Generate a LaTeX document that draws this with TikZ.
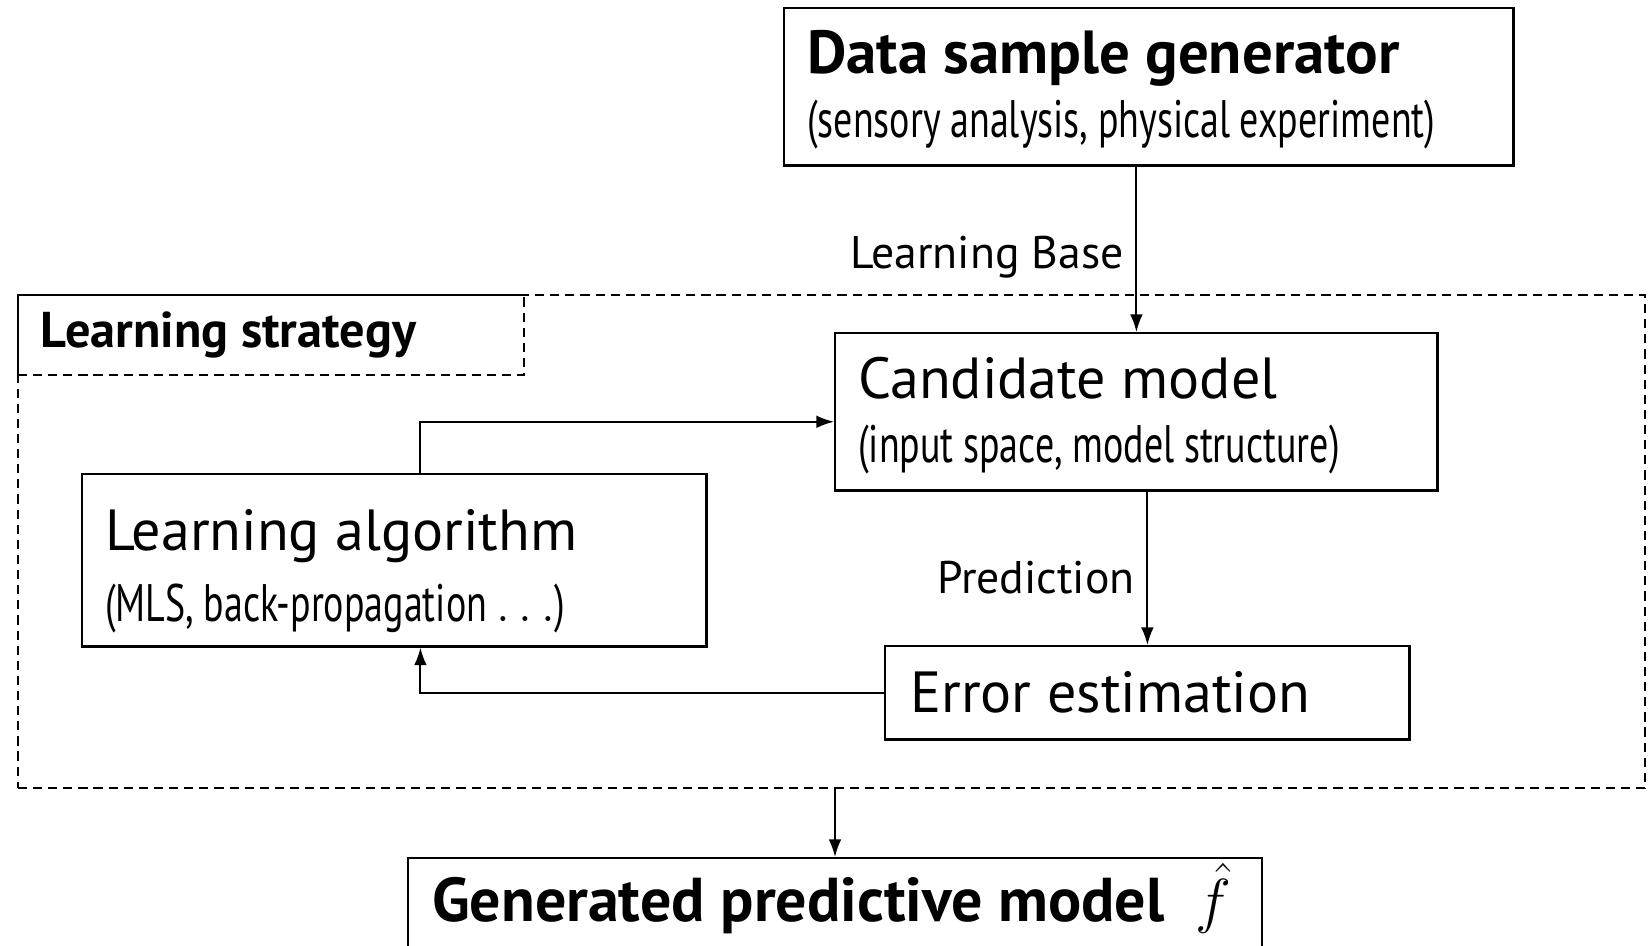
\documentclass[tikz,border=0pt]{standalone}
\usepackage{fontspec}
\setmainfont{PT Sans}
\newfontfamily\narrowfont[FakeStretch=0.72, WordSpace=0.95]{PT Sans}
\usetikzlibrary{arrows.meta}

\tikzset{
  box/.style={draw, line width=0.7pt, anchor=north west, align=left, inner xsep=0.23cm, inner ysep=0pt,
              font=\fontsize{15}{18.2}\selectfont},
  dashbox/.style={draw, dash pattern=on 2.6pt off 1.7pt, line width=0.5pt, anchor=north west, inner sep=0pt},
  link/.style={-{Latex[length=5pt, width=3.6pt]}, line width=0.55pt},
}
\newcommand{\bigtext}{\fontsize{16.5}{18.2}\selectfont\spaceskip=0pt\relax}
\newcommand{\boldtext}{\bfseries\fontsize{17.6}{18.2}\selectfont\spaceskip=0pt\relax}
\newcommand{\subtext}{\narrowfont\fontsize{15}{18.2}\selectfont\spaceskip=0pt\relax}
\newcommand{\labeltext}{\fontsize{13}{16}\selectfont}

\begin{document}
\begin{tikzpicture}[x=0.01cm, y=-0.01cm]
    \useasboundingbox (0,0) rectangle (1649,946);
    % outer frame
    \node[dashbox, minimum width=16.26cm, minimum height=4.93cm] (frame) at (17,294) {};
    \node[dashbox, minimum width=5.06cm, minimum height=0.80cm, align=left, text width=4.60cm, inner xsep=0.23cm] (strat) at (17,294)
        {\bfseries\fontsize{14.3}{17}\selectfont\spaceskip=0pt\relax Learning strategy};
    % boxes
    \node[box, minimum width=7.29cm, minimum height=1.57cm, text width=6.83cm] (data) at (783,7)
        {{\boldtext\fontsize{17.3}{18.2}\selectfont\rule{0pt}{14pt}Data sample generator}\\{\subtext (sensory analysis, physical experiment)}};
    \node[box, minimum width=6.02cm, minimum height=1.57cm, text width=5.56cm] (cand) at (834,332)
        {{\bigtext\rule{0pt}{14pt}Candidate model}\\{\subtext (input space, model structure)}};
    \node[box, minimum width=6.24cm, minimum height=1.72cm, text width=5.78cm] (algo) at (81,473)
        {{\bigtext\rule{0pt}{18pt}Learning algorithm}\\[2pt]{\subtext (MLS, back-propagation $\ldots$)}};
    \node[box, minimum width=5.20cm, minimum height=0.93cm, text width=4.74cm, inner xsep=0.25cm] (err) at (884,645)
        {\bigtext Error estimation};
    \node[box, minimum width=8.53cm, minimum height=0.96cm, text width=8.05cm, inner xsep=0.24cm, text depth=8pt] (gen) at (407,857)
        {\mbox{\boldtext Generated predictive model\enspace$\hat{f}$}};
    % connectors
    \draw[link] (cand.north |- data.south) -- node[pos=0.55, left] {\labeltext Learning Base} (cand.north);
    \draw[link] (err.north |- cand.south) -- node[pos=0.56, left] {\labeltext Prediction} (err.north);
    \draw[link] ([xshift=0.26cm]algo.north) |- ([yshift=-0.1cm]cand.west);
    \draw[link] (err.west) -| ([xshift=0.26cm]algo.south);
    \draw[link] (gen.north |- frame.south) -- (gen.north);
\end{tikzpicture}
\end{document}
